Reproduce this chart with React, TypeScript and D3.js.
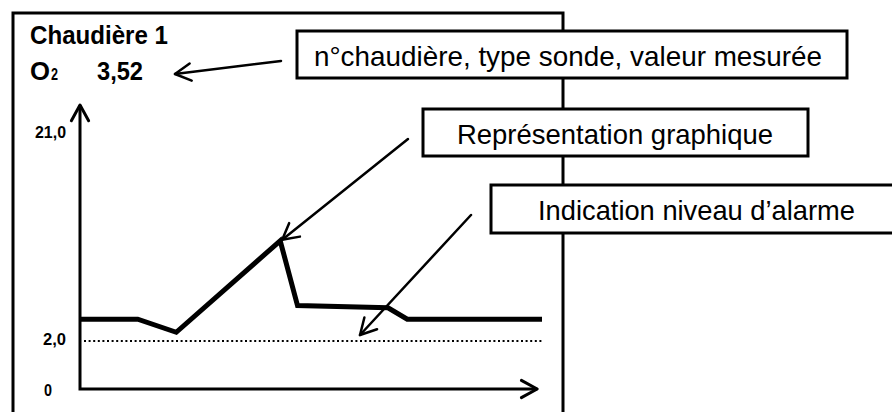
import React from 'react';
import * as d3 from 'd3';

// time of day (hours) and O2 value (%) of the sketched trace
const hours = [0, 3, 5, 10.4, 11.3, 16, 17, 24];
const o2Values = [4.0, 4.0, 2.8, 11.2, 5.25, 5.05, 4.0, 4.0];
const alarmLevel = 2.0;
const yTicks = [0, 2, 21];
const yTickLabels = ['0', '2,0', '21,0'];

const boilerName = 'Chaudière 1';
const probeType = 'O';
const measured = '3,52';
const calloutTexts = [
  'n°chaudière, type sonde, valeur mesurée',
  'Représentation graphique',
  'Indication niveau d\u2019alarme',
];

const W = 892;
const H = 412;
const FONT = '"Liberation Sans", Arial, sans-serif';

// open chevron at `tip`, pointing away from `from`
const chevron = (tip: [number, number], from: [number, number], len = 18, ang = 0.5) => {
  const a = Math.atan2(from[1] - tip[1], from[0] - tip[0]);
  const p1 = [tip[0] + len * Math.cos(a + ang), tip[1] + len * Math.sin(a + ang)];
  const p2 = [tip[0] + len * Math.cos(a - ang), tip[1] + len * Math.sin(a - ang)];
  return `M${p1[0]},${p1[1]}L${tip[0]},${tip[1]}L${p2[0]},${p2[1]}`;
};

export default function App() {
  const x = d3.scaleLinear().domain([0, 24]).range([80, 542]);
  // schematic, non uniform vertical axis
  const y = d3.scaleLinear().domain([0, 2, 21]).range([389, 341, 134]);

  const data = hours.map((h, i) => ({ h, v: o2Values[i] }));
  const line = d3.line<{ h: number; v: number }>()
    .x(d => x(d.h))
    .y(d => y(d.v));

  const x0 = x(0);
  const y0 = y(0);
  const xEnd = x(23.75);
  const yTop = y(21) - 29;

  // callout boxes
  const boxes = [
    { x: 297, y: 31, w: 550, h: 47, tx: 314, tw: 508 },
    { x: 423, y: 109, w: 385, h: 47, tx: 457, tw: 316 },
    { x: 491, y: 185, w: 420, h: 48, tx: 538, tw: 317 },
  ];

  const arrows: { tip: [number, number]; from: [number, number] }[] = [
    { tip: [175, 74], from: [281, 61] },
    { tip: [x(10.4) + 2, y(11.2) - 1], from: [408, 139] },
    { tip: [360, 335], from: [471, 215] },
  ];

  const tickWidths = [8, 23, 31];

  return (
    <svg width={W} height={H} style={{ position: 'absolute', left: 0, top: 0, background: '#fff' }}>
      <rect width={W} height={H} fill="#fff" />
      {/* display frame */}
      <path d={`M13,${H + 5}V13H563V${H + 5}`} fill="none" stroke="#000" strokeWidth={3} />

      {/* header */}
      <g fontFamily={FONT} fontWeight="bold" fill="#000">
        <text x={30} y={44} fontSize={26} textLength={138} lengthAdjust="spacingAndGlyphs">{boilerName}</text>
        <text x={30} y={80} fontSize={25} textLength={20} lengthAdjust="spacingAndGlyphs">{probeType}</text>
        <text x={51} y={80} fontSize={16} textLength={7} lengthAdjust="spacingAndGlyphs">2</text>
        <text x={97} y={80} fontSize={25} textLength={46} lengthAdjust="spacingAndGlyphs">{measured}</text>
      </g>

      {/* axes */}
      <path d={`M${x0},${yTop}V${y0}H${xEnd}`} fill="none" stroke="#000" strokeWidth={3} />
      <path d={chevron([x0, yTop], [x0, y0])} fill="none" stroke="#000" strokeWidth={3} strokeLinecap="round" strokeLinejoin="round" />
      <path d={chevron([xEnd, y0], [x0, y0])} fill="none" stroke="#000" strokeWidth={3} strokeLinecap="round" strokeLinejoin="round" />

      <g fontFamily={FONT} fontWeight="bold" fontSize={16} fill="#000" textAnchor="end">
        {yTicks.map((t, i) => (
          <text key={t} x={i === 0 ? 52 : 66} y={y(t) + 4 + (i === 0 ? 3 : 0)}
            textLength={tickWidths[i]} lengthAdjust="spacingAndGlyphs">{yTickLabels[i]}</text>
        ))}
      </g>

      {/* alarm level */}
      <line x1={x0 + 4} x2={x(24)} y1={y(alarmLevel)} y2={y(alarmLevel)} stroke="#000" strokeWidth={2} strokeDasharray="2,2.6" />

      {/* O2 trace */}
      <path d={line(data) ?? ''} fill="none" stroke="#000" strokeWidth={5} strokeLinejoin="miter" />

      {/* pointer arrows */}
      {arrows.map((a, i) => (
        <g key={i} fill="none" stroke="#000" strokeWidth={2.5} strokeLinecap="round" strokeLinejoin="round">
          <line x1={a.from[0]} y1={a.from[1]} x2={a.tip[0]} y2={a.tip[1]} />
          <path d={chevron(a.tip, a.from)} />
        </g>
      ))}

      {/* callouts */}
      {boxes.map((b, i) => (
        <g key={i}>
          <rect x={b.x} y={b.y} width={b.w} height={b.h} fill="#fff" stroke="#000" strokeWidth={3} />
          <text x={b.tx} y={b.y + 35} fontFamily={FONT} fontSize={28} fill="#000" textLength={b.tw} lengthAdjust="spacingAndGlyphs">
            {calloutTexts[i]}
          </text>
        </g>
      ))}
    </svg>
  );
}
